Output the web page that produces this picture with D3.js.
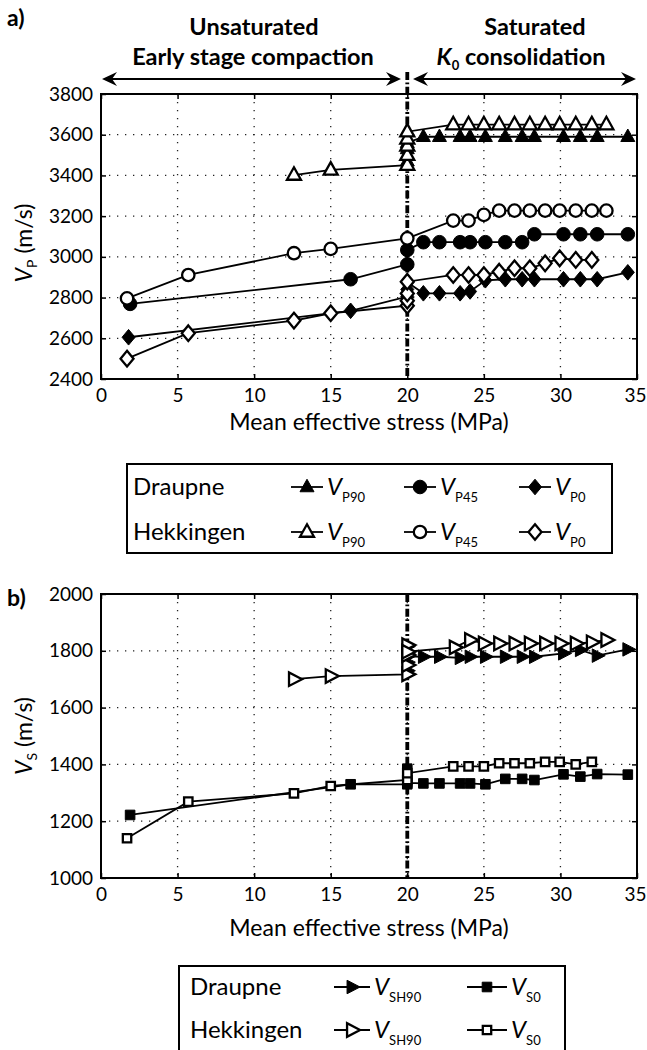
<!DOCTYPE html>
<html>
<head>
<meta charset="utf-8">
<script src="https://cdn.jsdelivr.net/npm/d3@7"></script>
<style>
  body { margin: 0; background: #fff; }
  svg { display: block; }
  text { font-family: Lato, "Open Sans", sans-serif; fill: #000; }
</style>
</head>
<body>
<svg id="chart" width="647" height="1050"></svg>
<script>
// ---- axis ticks ----
const stressTicks = [0, 5, 10, 15, 20, 25, 30, 35];
const vpTicks = [2400, 2600, 2800, 3000, 3200, 3400, 3600, 3800];
const vsTicks = [1000, 1200, 1400, 1600, 1800, 2000];
const transitionStress = 20;

// ---- P-wave velocity [stress MPa, velocity m/s] ----
const draupneVP90 = [[20,3470],[20,3500],[20,3530],[20,3560],[21.05,3590],[22.1,3590],[23.45,3590],[24.1,3590],[25.1,3590],[26.4,3590],[27.5,3590],[28.3,3590],[30.2,3590],[31.3,3590],[32.4,3590],[34.4,3590]];
const draupneVP45 = [[1.9,2769],[16.3,2890],[20,2963],[20,3034],[21.05,3072],[22.1,3072],[23.45,3072],[24.1,3072],[25.1,3072],[26.4,3072],[27.5,3072],[28.3,3111],[30.2,3111],[31.3,3111],[32.4,3111],[34.4,3111]];
const draupneVP0 = [[1.8,2605],[16.3,2735],[20,2805],[20,2840],[20,2875],[21.05,2821],[22.1,2821],[23.45,2821],[24.1,2830],[25.1,2885],[26.4,2890],[27.5,2890],[28.3,2890],[30.2,2890],[31.3,2890],[32.4,2890],[34.4,2924]];
const hekkingenVP90 = [[12.6,3402],[15,3427],[20,3451],[20,3500],[20,3545],[20,3580],[20,3615],[23,3650],[24,3650],[25,3650],[26,3650],[27,3650],[28,3650],[29,3650],[29.95,3650],[31,3650],[32.05,3650],[33,3650]];
const hekkingenVP45 = [[1.7,2796],[5.7,2911],[12.6,3018],[15,3039],[20,3091],[23,3178],[24,3178],[25,3206],[26,3227],[27,3227],[28,3227],[29,3227],[29.95,3227],[31,3227],[32.05,3227],[33,3227]];
const hekkingenVP0 = [[1.7,2500],[5.7,2625],[12.6,2687],[15,2723],[20,2760],[20,2785],[20,2820],[20,2878],[23,2911],[24,2911],[25,2911],[26,2927],[27,2944],[28,2944],[29,2968],[29.95,2993],[31,2985],[32.05,2985]];

// ---- S-wave velocity [stress MPa, velocity m/s] ----
const draupneVSH90 = [[20,1730],[20,1760],[20,1790],[20,1815],[20,1780],[21.05,1779],[22.1,1779],[23.45,1775],[24.1,1779],[25.1,1779],[26.4,1779],[27.5,1779],[28.3,1779],[30.2,1791],[31.3,1803],[32.4,1783],[34.4,1805]];
const draupneVS0 = [[1.9,1222],[16.3,1330],[20,1330],[20,1385],[20,1360],[20,1335],[21.05,1333],[22.1,1333],[23.45,1333],[24.1,1333],[25.1,1330],[26.4,1349],[27.5,1349],[28.3,1345],[30.2,1365],[31.3,1357],[32.4,1366],[34.4,1364]];
const hekkingenVSH90 = [[12.6,1700],[15,1711],[20,1717],[20,1750],[20,1785],[20,1820],[20,1797],[23.1,1812],[24.1,1838],[25,1826],[26,1826],[27,1826],[28,1826],[29,1826],[30,1826],[31,1826],[32.05,1830],[33,1838]];
const hekkingenVS0 = [[1.7,1140],[5.7,1269],[12.6,1298],[15,1324],[20,1345],[20,1369],[23,1393],[24,1393],[25,1393],[26,1404],[27,1404],[28,1404],[29,1409],[29.95,1409],[31,1400],[32.05,1409]];

// ---- layout ----
const W = 647, H = 1050;
const x = d3.scaleLinear().domain([0, 35]).range([101, 637]);
const yP = d3.scaleLinear().domain([2400, 3800]).range([379, 94]);
const yS = d3.scaleLinear().domain([1000, 2000]).range([878, 594]);

const svg = d3.select("#chart");
svg.append("rect").attr("width", W).attr("height", H).attr("fill", "#fff");

// marker outlines centred on the origin
function markerPath(shape, filled) {
  switch (shape) {
    case "triUp": { const w = 14, h = 12.5; return `M0,${-h*0.62}L${w/2},${h*0.38}L${-w/2},${h*0.38}Z`; }
    case "triRight": { const w = 13, h = 13.5; return `M${w*0.62},0L${-w*0.38},${-h/2}L${-w*0.38},${h/2}Z`; }
    case "circle": { const r = filled ? 6.8 : 6.2; return `M${r},0A${r},${r} 0 1 1 ${-r},0A${r},${r} 0 1 1 ${r},0Z`; }
    case "diamond": { const a = 6.5, b = 7.8; return `M0,${-b}L${a},0L0,${b}L${-a},0Z`; }
    case "square": { const s = filled ? 4.8 : 4.2; return `M${-s},${-s}H${s}V${s}H${-s}Z`; }
  }
}

function styleMarker(sel, filled) {
  sel.attr("fill", filled ? "#000" : "#fff")
     .attr("stroke", "#000")
     .attr("stroke-width", filled ? 1 : 2.3)
     .attr("stroke-linejoin", "miter");
}

function drawFrame(y, yTicks) {
  const [bottom, top] = y.range();
  const [l, r] = x.range();
  const g = svg.append("g");

  // dotted grid
  g.selectAll(null).data(stressTicks.slice(1, -1)).join("line")
    .attr("x1", d => x(d)).attr("x2", d => x(d)).attr("y1", top).attr("y2", bottom)
    .attr("stroke", "#222").attr("stroke-width", 1.3).attr("stroke-dasharray", "1.3,6.7");
  g.selectAll(null).data(yTicks.slice(1, -1)).join("line")
    .attr("x1", l).attr("x2", r).attr("y1", d => y(d)).attr("y2", d => y(d))
    .attr("stroke", "#222").attr("stroke-width", 1.3).attr("stroke-dasharray", "1.3,6.7");

  // axes with inward ticks
  const fontIt = s => s.attr("font-family", "Lato, 'Open Sans', sans-serif").attr("font-size", 19)
    .call(t => t.select(".domain").remove())
    .call(t => t.selectAll(".tick line").attr("stroke-width", 1.5));
  g.append("g").attr("transform", `translate(0,${bottom})`)
    .call(d3.axisBottom(x).tickValues(stressTicks).tickFormat(d3.format("d")).tickSize(-5).tickPadding(10)).call(fontIt)
    .call(t => t.selectAll(".tick text").filter(d => d === 35).attr("text-anchor", "end").attr("dx", 9));
  g.append("g").attr("transform", `translate(0,${top})`)
    .call(d3.axisTop(x).tickValues(stressTicks).tickSize(-5).tickFormat("")).call(fontIt);
  g.append("g").attr("transform", `translate(${l},0)`)
    .call(d3.axisLeft(y).tickValues(yTicks).tickFormat(d3.format("d")).tickSize(-5).tickPadding(8)).call(fontIt);
  g.append("g").attr("transform", `translate(${r},0)`)
    .call(d3.axisRight(y).tickValues(yTicks).tickSize(-5).tickFormat("")).call(fontIt);

  g.append("rect").attr("x", l).attr("y", top).attr("width", r - l).attr("height", bottom - top)
    .attr("fill", "none").attr("stroke", "#000").attr("stroke-width", 2);
  return g;
}

function drawTransition(y, y0) {
  const [bottom] = y.range();
  svg.append("line")
    .attr("x1", x(transitionStress)).attr("x2", x(transitionStress))
    .attr("y1", y0).attr("y2", bottom)
    .attr("stroke", "#000").attr("stroke-width", 3.8)
    .attr("stroke-dasharray", "8,2.5,1.8,2.5");
}

function drawSeries(y, data, shape, filled) {
  const g = svg.append("g");
  g.append("path").datum(data)
    .attr("d", d3.line().x(d => x(d[0])).y(d => y(d[1])))
    .attr("fill", "none").attr("stroke", "#000").attr("stroke-width", 1.8);
  g.selectAll(null).data(data).join("path")
    .attr("d", markerPath(shape, filled))
    .attr("transform", d => `translate(${x(d[0])},${y(d[1])})`)
    .call(styleMarker, filled);
}

function velocityText(sel, sub, vSize, subSize) {
  sel.append("tspan").attr("font-style", "italic").attr("font-size", vSize).text("V");
  sel.append("tspan").attr("font-size", subSize).attr("dy", vSize * 0.3).text(sub);
}

// ---- header: stage annotation ----
svg.append("text").attr("x", 7).attr("y", 26)
  .attr("font-family", "'Liberation Serif', serif").attr("font-weight", "bold").attr("font-size", 23)
  .text("a)");
const head = svg.append("g").attr("font-weight", 700).attr("font-size", 23.5).attr("text-anchor", "middle");
head.append("text").attr("x", 254).attr("y", 35).text("Unsaturated");
head.append("text").attr("x", 253).attr("y", 65).text("Early stage compaction");
head.append("text").attr("x", 535).attr("y", 35).text("Saturated");
const k0 = head.append("text").attr("x", 521).attr("y", 65);
k0.append("tspan").attr("font-style", "italic").text("K");
k0.append("tspan").attr("font-size", 13).attr("dy", 5).text("0");
k0.append("tspan").attr("dy", -5).text(" consolidation");

function arrowHead(xTip, yy, dir) {
  const L = 15, Wd = 7, N = 10;
  return `M${xTip},${yy}L${xTip + dir*L},${yy - Wd}L${xTip + dir*N},${yy}L${xTip + dir*L},${yy + Wd}Z`;
}
const arrowY = 79;
[[102, 401], [413, 636]].forEach(([a, b]) => {
  svg.append("line").attr("x1", a + 6).attr("x2", b - 6).attr("y1", arrowY).attr("y2", arrowY)
    .attr("stroke", "#000").attr("stroke-width", 2.2);
  svg.append("path").attr("d", arrowHead(a, arrowY, 1)).attr("fill", "#000");
  svg.append("path").attr("d", arrowHead(b, arrowY, -1)).attr("fill", "#000");
});

// ---- panel a: P-wave velocity ----
drawFrame(yP, vpTicks);
drawTransition(yP, 72);
drawSeries(yP, draupneVP90, "triUp", true);
drawSeries(yP, draupneVP45, "circle", true);
drawSeries(yP, draupneVP0, "diamond", true);
drawSeries(yP, hekkingenVP90, "triUp", false);
drawSeries(yP, hekkingenVP45, "circle", false);
drawSeries(yP, hekkingenVP0, "diamond", false);

svg.append("text").attr("x", 369).attr("y", 430).attr("text-anchor", "middle").attr("font-size", 23)
  .text("Mean effective stress (MPa)");
const ylabA = svg.append("text").attr("transform", "translate(32,243) rotate(-90)")
  .attr("text-anchor", "middle").attr("font-size", 23);
ylabA.append("tspan").attr("font-style", "italic").text("V");
ylabA.append("tspan").attr("font-size", 14).attr("dy", 5).text("P");
ylabA.append("tspan").attr("dy", -5).text(" (m/s)");

// legend a
const legA = svg.append("g");
legA.append("rect").attr("x", 127).attr("y", 464).attr("width", 485).attr("height", 89)
  .attr("fill", "#fff").attr("stroke", "#000").attr("stroke-width", 2);
const legRowsA = [
  { name: "Draupne", y: 487, filled: true },
  { name: "Hekkingen", y: 532, filled: false }
];
const legColsA = [
  { cx: 307, shape: "triUp", sub: "P90" },
  { cx: 420, shape: "circle", sub: "P45" },
  { cx: 535, shape: "diamond", sub: "P0" }
];
legRowsA.forEach(row => {
  legA.append("text").attr("x", 133).attr("y", row.y + 8).attr("font-size", 24).text(row.name);
  legColsA.forEach(c => {
    legA.append("line").attr("x1", c.cx - 16).attr("x2", c.cx + 16).attr("y1", row.y).attr("y2", row.y)
      .attr("stroke", "#000").attr("stroke-width", 1.8);
    legA.append("path").attr("d", markerPath(c.shape, row.filled))
      .attr("transform", `translate(${c.cx},${row.y})`).call(styleMarker, row.filled);
    legA.append("text").attr("x", c.cx + 20).attr("y", row.y + 8).call(velocityText, c.sub, 24, 13);
  });
});

// ---- panel b: S-wave velocity ----
svg.append("text").attr("x", 7).attr("y", 606)
  .attr("font-family", "'Liberation Serif', serif").attr("font-weight", "bold").attr("font-size", 23)
  .text("b)");
drawFrame(yS, vsTicks);
drawTransition(yS, 594);
drawSeries(yS, draupneVSH90, "triRight", true);
drawSeries(yS, draupneVS0, "square", true);
drawSeries(yS, hekkingenVSH90, "triRight", false);
drawSeries(yS, hekkingenVS0, "square", false);

svg.append("text").attr("x", 369).attr("y", 936).attr("text-anchor", "middle").attr("font-size", 23)
  .text("Mean effective stress (MPa)");
const ylabB = svg.append("text").attr("transform", "translate(32,736) rotate(-90)")
  .attr("text-anchor", "middle").attr("font-size", 23);
ylabB.append("tspan").attr("font-style", "italic").text("V");
ylabB.append("tspan").attr("font-size", 14).attr("dy", 5).text("S");
ylabB.append("tspan").attr("dy", -5).text(" (m/s)");

// legend b
const legB = svg.append("g");
legB.append("rect").attr("x", 179).attr("y", 966).attr("width", 386).attr("height", 100)
  .attr("fill", "#fff").attr("stroke", "#000").attr("stroke-width", 2);
const legRowsB = [
  { name: "Draupne", y: 987, filled: true },
  { name: "Hekkingen", y: 1030, filled: false }
];
const legColsB = [
  { cx: 352, half: 18, shape: "triRight", sub: "SH90" },
  { cx: 487, half: 20, shape: "square", sub: "S0" }
];
legRowsB.forEach(row => {
  legB.append("text").attr("x", 190).attr("y", row.y + 8).attr("font-size", 24).text(row.name);
  legColsB.forEach(c => {
    legB.append("line").attr("x1", c.cx - c.half).attr("x2", c.cx + c.half).attr("y1", row.y).attr("y2", row.y)
      .attr("stroke", "#000").attr("stroke-width", 1.8);
    legB.append("path").attr("d", markerPath(c.shape, row.filled))
      .attr("transform", `translate(${c.cx},${row.y})`).call(styleMarker, row.filled);
    legB.append("text").attr("x", c.cx + c.half + 4).attr("y", row.y + 8).call(velocityText, c.sub, 24, 13);
  });
});
</script>
</body>
</html>
